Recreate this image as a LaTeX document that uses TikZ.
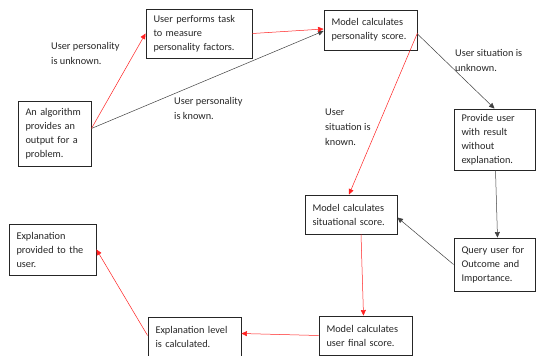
\documentclass[tikz,border=0pt]{standalone}
\usepackage{fontspec}
\setmainfont{Carlito}
\usetikzlibrary{arrows.meta}
\definecolor{linea}{HTML}{404040}
\definecolor{rojo}{HTML}{FF2020}
\definecolor{texto}{HTML}{262626}

\begin{document}
\begin{tikzpicture}[
  x=1pt, y=-1pt,
  font=\fontsize{10.3}{14}\selectfont,
  box/.style={draw=black!85, line width=0.9pt, align=left, text=texto,
    inner xsep=7.5pt, inner ysep=0pt},
  arr/.style={-{Triangle[length=5.5pt, width=5pt]}, line width=0.5pt, linea},
  arrred/.style={-{Triangle[length=5.5pt, width=5pt]}, line width=0.5pt, rojo},
  lbl/.style={font=\fontsize{10.3}{15}\selectfont, text=texto, align=left,
    inner sep=0pt, anchor=west},
]
\useasboundingbox (0,0) rectangle (536,356);

% --- Boxes ---
\node[box, text width=58pt, minimum height=65pt] (algo) at (54.5,133.5)
  {An algorithm\\provides an\\output for a\\problem.};
\node[box, text width=91pt, minimum height=49pt] (task) at (199,33.5)
  {User performs task\\to measure\\personality factors.};
\node[box, text width=78pt, minimum height=40pt] (pscore) at (370.5,30)
  {Model calculates\\personality score.};
\node[box, text width=66pt, minimum height=61pt] (noexp) at (494.5,139.5)
  {Provide user\\with result\\without\\explanation.};
\node[box, text width=77pt, minimum height=39pt] (sscore) at (351,214.5)
  {Model calculates\\situational score.};
\node[box, text width=66pt, minimum height=53pt] (query) at (494.5,264.5)
  {Query user for\\Outcome and\\Importance.};
\node[box, text width=78pt, minimum height=39pt] (final) at (365.5,335.5)
  {Model calculates\\user final score.};
\node[box, text width=78pt, minimum height=39pt] (level) at (194.5,336.5)
  {Explanation level\\is calculated.};
\node[box, text width=72pt, minimum height=51pt] (explain) at (52.5,249.5)
  {Explanation\\provided to the\\user.};

% --- Labels ---
\node[lbl] (unk) at (51,53.5) {User personality\\is unknown.};
\node[lbl] (kno) at (174,108) {User personality\\is known.};
\node[lbl] (sunk) at (455,60.5) {User situation is\\unknown.};
\node[lbl] (skno) at (325,127) {User\\situation is\\known.};

% --- Connectors ---
\draw[arrred] ([yshift=5pt]algo.east) -- (task.west);
\draw[arr] ([yshift=5pt]algo.east) -- ([yshift=-1pt]pscore.west);
\draw[arrred] (task.east) -- ([yshift=1pt]pscore.west);
\draw[arr] ([yshift=-4pt]pscore.east) -- (noexp.north);
\draw[arrred] ([yshift=-3pt]pscore.east) -- ([xshift=-2pt]sscore.north);
\draw[arr] ([xshift=1pt]noexp.south) -- ([xshift=3pt]query.north);
\draw[arr] (query.west) -- ([yshift=-3pt]sscore.east);
\draw[arrred] ([xshift=10pt]sscore.south) -- ([xshift=-2pt]final.north);
\draw[arrred] (final.west) -- ([yshift=3pt]level.east);
\draw[arrred] ([yshift=1pt]level.west) -- (explain.east);

\end{tikzpicture}
\end{document}
